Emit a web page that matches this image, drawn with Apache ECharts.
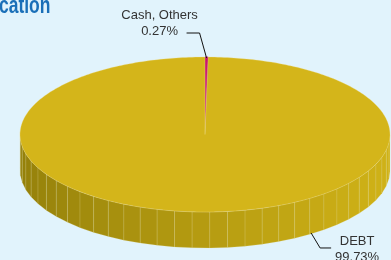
<!DOCTYPE html>
<html>
<head>
<meta charset="utf-8">
<script src="https://cdn.jsdelivr.net/npm/echarts@6/dist/echarts.min.js"></script>
<style>
    html, body { margin: 0; padding: 0; background: #E1F3FC; }
    #main { width: 391px; height: 260px; }
</style>
</head>
<body>
<div id="main"></div>
<script>
// 数据
var labels = ['Cash, Others', 'DEBT'];
var values = [0.27, 99.73];
var colors = ['#C8106A', '#D4B51A'];

var total = values.reduce(function (a, b) { return a + b; }, 0);

// 椭圆几何
var cx = 205, cy = 134.5, rx = 185, ry = 77.5, depth = 36;

function pt(deg, dy) {
    var r = deg * Math.PI / 180;
    return [cx + rx * Math.cos(r), cy - ry * Math.sin(r) + (dy || 0)];
}

function mix(a, b, t) {
    var pa = [parseInt(a.substr(1, 2), 16), parseInt(a.substr(3, 2), 16), parseInt(a.substr(5, 2), 16)];
    var pb = [parseInt(b.substr(1, 2), 16), parseInt(b.substr(3, 2), 16), parseInt(b.substr(5, 2), 16)];
    return 'rgb(' + pa.map(function (v, i) { return Math.round(v + (pb[i] - v) * t); }).join(',') + ')';
}

function renderItem(params, api) {
    var i = params.dataIndex;
    var before = 0;
    for (var k = 0; k < i; k++) before += values[k];
    var v = api.value(0);
    var start = 90 - before / total * 360;
    var end = start - v / total * 360;
    var children = [];

    // 侧面
    var step = 5.5;
    for (var a = end; a < start; a += step) {
        var b = Math.min(a + step, start);
        var m = (a + b) / 2;
        if (Math.sin(m * Math.PI / 180) >= 0) continue;
        var p1 = pt(a), p2 = pt(b);
        var t = (pt(m)[0] - (cx - rx)) / (2 * rx);
        var side = i === 0 ? '#8E0C4A' : mix('#94800A', '#D0B217', Math.pow(t, 0.85));
        children.push({
            type: 'polygon',
            z2: 1,
            shape: { points: [p1, p2, [p2[0], p2[1] + depth], [p1[0], p1[1] + depth]] },
            style: { fill: side, stroke: 'rgba(235,222,150,0.3)', lineWidth: 0.6 }
        });
    }

    // 顶面
    var pts = [[cx, cy]];
    var n = Math.max(2, Math.ceil((start - end) / 1));
    for (var j = 0; j <= n; j++) pts.push(pt(start - (start - end) * j / n));
    children.push({
        type: 'polygon',
        z2: 10,
        shape: { points: pts },
        style: i === 0 ? {
            fill: new echarts.graphic.LinearGradient(0, 0, 0, 1, [
                { offset: 0, color: '#C8106A' }, { offset: 0.6, color: '#CC3A84' }, { offset: 1, color: '#D4B51A' }
            ]),
            stroke: new echarts.graphic.LinearGradient(0, 0, 0, 1, [
                { offset: 0, color: '#C8106A' }, { offset: 0.7, color: 'rgba(204,58,132,0.6)' }, { offset: 1, color: 'rgba(212,181,26,0)' }
            ]),
            lineWidth: 0.8
        } : { fill: colors[i], stroke: 'rgba(240,225,150,0.6)', lineWidth: 0.5 }
    });

    // 标签
    var txt = labels[i] + '\n' + v.toFixed(2) + '%';
    var mid = (start + end) / 2;
    var font = { fontFamily: 'Liberation Sans, Arial, sans-serif', fontSize: 13, fill: '#333', lineHeight: 16 };
    if (Math.sin(mid * Math.PI / 180) > 0) {
        var an = pt(mid);
        children.push({
            type: 'polyline', z2: 20,
            shape: { points: [[an[0], an[1] + 1], [an[0] - 7, 33], [an[0] - 20, 33]] },
            style: { stroke: '#111', lineWidth: 1, fill: null }
        });
        children.push({
            type: 'text', z2: 20, x: an[0] - 47, y: 7,
            style: Object.assign({ text: txt, align: 'center', verticalAlign: 'top' }, font)
        });
    } else {
        var bn = pt(-55, depth);
        children.push({
            type: 'polyline', z2: 20,
            shape: { points: [[bn[0], bn[1] - 1], [bn[0] + 9, bn[1] + 14], [bn[0] + 20, bn[1] + 14]] },
            style: { stroke: '#111', lineWidth: 1, fill: null }
        });
        children.push({
            type: 'text', z2: 20, x: bn[0] + 46, y: bn[1] - 1,
            style: Object.assign({ text: txt, align: 'center', verticalAlign: 'top' }, font)
        });
    }
    return { type: 'group', children: children };
}

var chart = echarts.init(document.getElementById('main'));
chart.setOption({
    backgroundColor: '#E1F3FC',
    animation: false,
    graphic: [{
        type: 'text', x: -1, y: -5, scaleX: 0.76,
        style: {
            text: 'cation', fill: '#1A6FB8',
            font: 'bold 23px "Liberation Sans", Arial, sans-serif'
        }
    }],
    series: [{
        type: 'custom',
        coordinateSystem: 'none',
        renderItem: renderItem,
        data: values.map(function (v) { return [v]; })
    }]
});
</script>
</body>
</html>
